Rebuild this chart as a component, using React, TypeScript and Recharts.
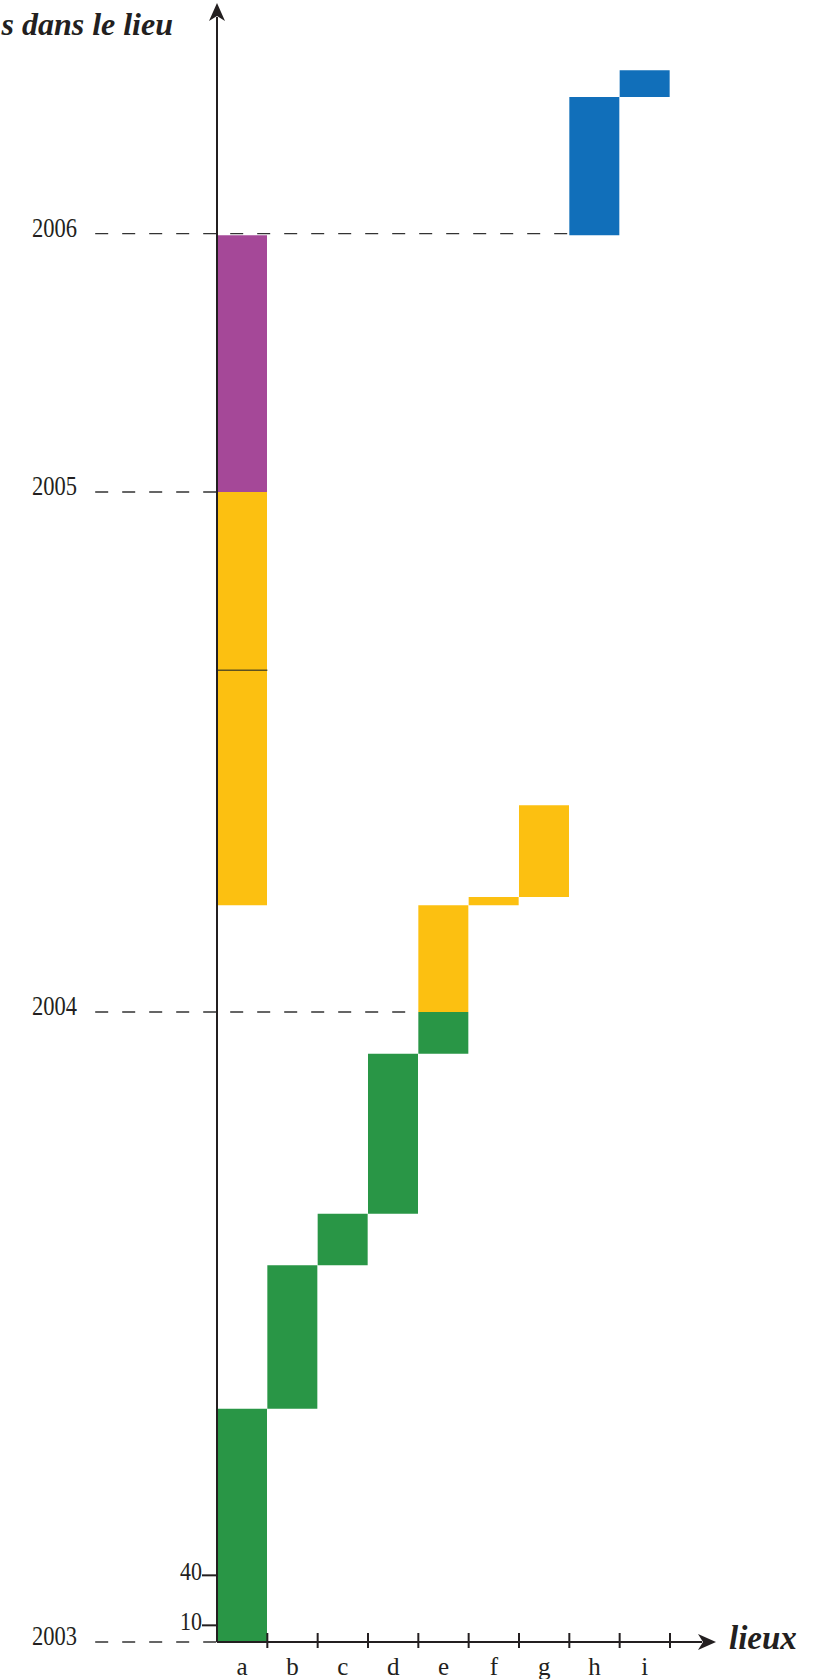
import React from 'react';
import { BarChart, Bar, XAxis, YAxis, ReferenceLine } from 'recharts';

// lieux (axe horizontal)
const lieux = ['a', 'b', 'c', 'd', 'e', 'f', 'g', 'h', 'i'];

// [début, fin] de chaque séjour, en jours cumulés depuis 2003
const vert = [[0, 140], [140, 226], [226, 257], [257, 353], [353, 378], null, null, null, null];
const jaune = [[442, 690], null, null, null, [378, 442], [442, 447], [447, 502], null, null];
const violet = [[690, 844], null, null, null, null, null, null, null, null];
const bleu = [null, null, null, null, null, null, null, [844, 927], [927, 943]];

// repères d'années et graduations
const annees = ['2003', '2004', '2005', '2006'];
const valeursAnnees = [0, 378, 690, 845];
const finTirets = [0, 4, 0, 7]; // lieu où s'arrête le pointillé
const petitsTicks = [10, 40];
const trait = 583; // trait sombre dans le jaune du lieu a

const debutTirets = -2.42;
const maxX = 9.636;
const maxY = 975;

const ENCRE = '#231f20';
const POLICE = '"Liberation Serif", "Times New Roman", serif';

const data = lieux.map((l, i) => ({
  pos: i + 0.5,
  lieu: l,
  vert: vert[i],
  jaune: jaune[i],
  violet: violet[i],
  bleu: bleu[i],
}));

const ticksX = lieux.flatMap((_, i) => [i + 0.5, i + 1]);
const ticksY = [...valeursAnnees, ...petitsTicks].sort((a, b) => a - b);

const TickX = ({ x, y, payload }: any) => {
  const v = payload.value;
  if (Number.isInteger(v)) {
    return <line x1={x} x2={x} y1={y - 9} y2={y + 6} stroke={ENCRE} strokeWidth={2} />;
  }
  return (
    <text x={x} y={y + 33} textAnchor="middle" fontSize={25} fontFamily={POLICE} fill={ENCRE}>
      {lieux[Math.floor(v)]}
    </text>
  );
};

const TickY = ({ x, y, payload }: any) => {
  const v = payload.value;
  const k = valeursAnnees.indexOf(v);
  if (k >= 0) {
    return (
      <text x={x - 140} y={y + 3} textAnchor="end" fontSize={28} fontFamily={POLICE} fill={ENCRE}
        textLength={45} lengthAdjust="spacingAndGlyphs">
        {annees[k]}
      </text>
    );
  }
  return (
    <g>
      <line x1={x - 15} x2={x} y1={y} y2={y} stroke={ENCRE} strokeWidth={2} />
      <text x={x - 15} y={y + 5} textAnchor="end" fontSize={25} fontFamily={POLICE} fill={ENCRE}
        textLength={22} lengthAdjust="spacingAndGlyphs">
        {v}
      </text>
    </g>
  );
};

// un axe par couleur pour que les barres ne se partagent pas la largeur
const axeX = (id: string, visible: boolean) => (
  <XAxis
    key={id}
    xAxisId={id}
    dataKey="pos"
    type="number"
    domain={[0, maxX]}
    hide={!visible}
    height={visible ? 37 : 0}
    ticks={ticksX}
    interval={0}
    tickLine={false}
    tickSize={0}
    tickMargin={0}
    tick={<TickX />}
    axisLine={{ stroke: ENCRE, strokeWidth: 2, markerEnd: 'url(#fleche)' }}
  />
);

export default function App() {
  return (
    <div style={{ position: 'absolute', left: 0, top: 0, width: 829, height: 1679 }}>
      <BarChart width={829} height={1679} data={data} margin={{ top: 17, right: 127, bottom: 0, left: 0 }}>
        <defs>
          <marker id="fleche" viewBox="0 0 18 16" refX="4" refY="8" markerWidth="18" markerHeight="16"
            markerUnits="userSpaceOnUse" orient="auto-start-reverse">
            <path d="M0,0 L18,8 L0,16 L5,8 Z" fill={ENCRE} />
          </marker>
        </defs>
        {axeX('v', true)}
        {axeX('j', false)}
        {axeX('p', false)}
        {axeX('b', false)}
        <YAxis
          type="number"
          domain={[0, maxY]}
          ticks={ticksY}
          interval={0}
          width={217}
          tickLine={false}
          tickSize={0}
          tickMargin={0}
          tick={<TickY />}
          axisLine={{ stroke: ENCRE, strokeWidth: 2, markerStart: 'url(#fleche)' }}
        />
        {valeursAnnees.map((v, i) => (
          <ReferenceLine
            key={annees[i]}
            xAxisId="v"
            ifOverflow="visible"
            segment={[{ x: debutTirets, y: v }, { x: finTirets[i], y: v }]}
            stroke="#333"
            strokeWidth={1.4}
            strokeDasharray="13 14"
          />
        ))}
        <Bar xAxisId="v" dataKey="vert" fill="#299646" barSize={50} isAnimationActive={false} />
        <Bar xAxisId="j" dataKey="jaune" fill="#fcc011" barSize={50} isAnimationActive={false} />
        <Bar xAxisId="p" dataKey="violet" fill="#a54898" barSize={50} isAnimationActive={false} />
        <Bar xAxisId="b" dataKey="bleu" fill="#116fba" barSize={50} isAnimationActive={false} />
        <ReferenceLine
          xAxisId="v"
          segment={[{ x: 0, y: trait }, { x: 1, y: trait }]}
          stroke="#5e5220"
          strokeWidth={1.5}
        />
      </BarChart>
      <svg width={829} height={1679} style={{ position: 'absolute', left: 0, top: 0, pointerEvents: 'none' }}>
        <text x={173} y={35} textAnchor="end" fontSize={32} fontStyle="italic" fontWeight="bold"
          fontFamily={POLICE} fill={ENCRE}>
          s dans le lieu
        </text>
        <text x={729} y={1649} fontSize={33} fontStyle="italic" fontWeight="bold" fontFamily={POLICE} fill={ENCRE}>
          lieux
        </text>
      </svg>
    </div>
  );
}
